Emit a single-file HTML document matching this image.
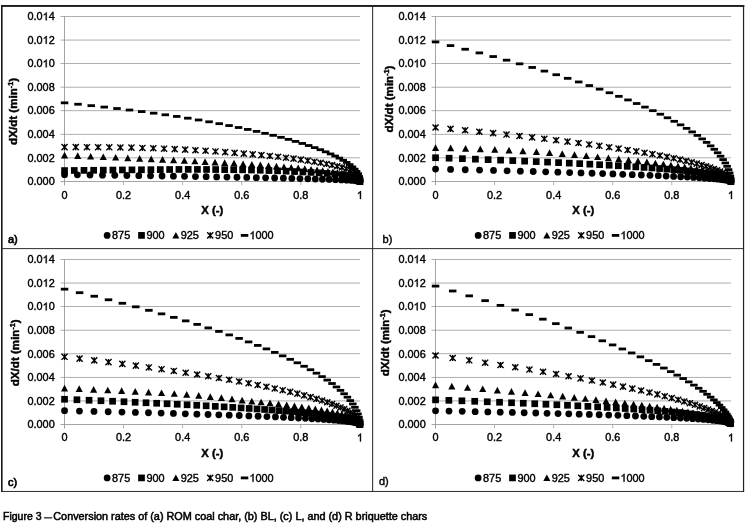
<!DOCTYPE html><html><head><meta charset="utf-8"><title>Figure 3</title><style>html,body{margin:0;padding:0;background:#fff;}body{width:750px;height:529px;position:relative;overflow:hidden;font-family:"Liberation Sans",sans-serif;}</style></head><body><svg width="750" height="529" viewBox="0 0 750 529" style="position:absolute;left:0;top:0;filter:blur(0.35px)" font-family="Liberation Sans, sans-serif" font-size="10.9" fill="#000">
<style>text{stroke:#000;stroke-width:0.4px;paint-order:stroke}text.b{font-weight:bold;stroke-width:0.45px}</style>
<rect width="750" height="529" fill="#fff"/>
<rect x="1" y="5" width="743.3" height="1.9" fill="#1a1a1a"/>
<rect x="1" y="5" width="1.6" height="486.9" fill="#1a1a1a"/>
<rect x="742.95" y="5" width="1.2" height="486.9" fill="#222"/>
<rect x="1" y="490.95" width="743.1" height="0.95" fill="#222"/>
<rect x="372.15" y="5" width="1.0" height="486.9" fill="#222"/>
<rect x="1" y="248.15" width="743" height="0.95" fill="#222"/>
<rect x="60.55" y="16.10" width="299.55" height="0.8" fill="#9a9a9a"/>
<text x="27.48" y="20.25" font-size="10.9">0.0</text><path d="M46.69 20.25L45.73 20.25L45.73 14.15Q45.39 14.48 44.82 14.81Q44.26 15.14 43.82 15.30L43.82 14.37Q44.62 14.00 45.22 13.46Q45.82 12.92 46.07 12.42L46.69 12.42Z" stroke="#000" stroke-width="0.4"/><text x="48.69" y="20.25" font-size="10.9">4</text>
<rect x="60.55" y="39.66" width="299.55" height="0.8" fill="#9a9a9a"/>
<text x="27.48" y="43.81" font-size="10.9">0.0</text><path d="M46.69 43.81L45.73 43.81L45.73 37.70Q45.39 38.03 44.82 38.36Q44.26 38.69 43.82 38.86L43.82 37.93Q44.62 37.55 45.22 37.02Q45.82 36.48 46.07 35.97L46.69 35.97Z" stroke="#000" stroke-width="0.4"/><text x="48.69" y="43.81" font-size="10.9">2</text>
<rect x="60.55" y="63.21" width="299.55" height="0.8" fill="#9a9a9a"/>
<text x="27.48" y="67.36" font-size="10.9">0.0</text><path d="M46.69 67.36L45.73 67.36L45.73 61.26Q45.39 61.59 44.82 61.92Q44.26 62.25 43.82 62.41L43.82 61.49Q44.62 61.11 45.22 60.57Q45.82 60.04 46.07 59.53L46.69 59.53Z" stroke="#000" stroke-width="0.4"/><text x="48.69" y="67.36" font-size="10.9">0</text>
<rect x="60.55" y="86.77" width="299.55" height="0.8" fill="#9a9a9a"/>
<text x="27.48" y="90.92" font-size="10.9">0.008</text>
<rect x="60.55" y="110.33" width="299.55" height="0.8" fill="#9a9a9a"/>
<text x="27.48" y="114.48" font-size="10.9">0.006</text>
<rect x="60.55" y="133.89" width="299.55" height="0.8" fill="#9a9a9a"/>
<text x="27.48" y="138.04" font-size="10.9">0.004</text>
<rect x="60.55" y="157.44" width="299.55" height="0.8" fill="#9a9a9a"/>
<text x="27.48" y="161.59" font-size="10.9">0.002</text>
<rect x="60.55" y="181.00" width="299.55" height="0.8" fill="#8e8e8e"/>
<text x="27.48" y="185.15" font-size="10.9">0.000</text>
<rect x="64.15" y="16.50" width="0.8" height="168.70" fill="#8e8e8e"/>
<rect x="64.15" y="181.40" width="0.8" height="3.8" fill="#a0a0a0"/>
<text x="61.52" y="198.90" font-size="10.9">0</text>
<rect x="123.22" y="181.40" width="0.8" height="3.8" fill="#a0a0a0"/>
<text x="116.04" y="198.90" font-size="10.9">0.2</text>
<rect x="182.29" y="181.40" width="0.8" height="3.8" fill="#a0a0a0"/>
<text x="175.11" y="198.90" font-size="10.9">0.4</text>
<rect x="241.36" y="181.40" width="0.8" height="3.8" fill="#a0a0a0"/>
<text x="234.18" y="198.90" font-size="10.9">0.6</text>
<rect x="300.43" y="181.40" width="0.8" height="3.8" fill="#a0a0a0"/>
<text x="293.25" y="198.90" font-size="10.9">0.8</text>
<rect x="359.50" y="181.40" width="0.8" height="3.8" fill="#a0a0a0"/>
<path d="M360.93 198.90L359.97 198.90L359.97 192.80Q359.63 193.13 359.07 193.46Q358.50 193.79 358.06 193.95L358.06 193.02Q358.86 192.65 359.46 192.11Q360.06 191.57 360.31 191.07L360.93 191.07Z" stroke="#000" stroke-width="0.4"/>
<text x="212.22" y="214.00" text-anchor="middle" class="b" font-size="11.3">X (-)</text>
<text transform="translate(17.00 111.40) rotate(-90)" text-anchor="middle" class="b" font-size="11.6">dX/dt (min<tspan font-size="7.2" dy="-3.9">-1</tspan><tspan dy="3.9">)</tspan></text>
<text x="8.00" y="242.60" font-size="11" style="stroke-width:0.7px">a)</text>
<g>
<circle cx="64.55" cy="174.69" r="3.4"/>
<circle cx="77.36" cy="174.85" r="3.4"/>
<circle cx="90.01" cy="175.01" r="3.4"/>
<circle cx="102.48" cy="175.17" r="3.4"/>
<circle cx="114.76" cy="175.34" r="3.4"/>
<circle cx="126.87" cy="175.51" r="3.4"/>
<circle cx="138.79" cy="175.67" r="3.4"/>
<circle cx="150.52" cy="175.84" r="3.4"/>
<circle cx="162.06" cy="176.01" r="3.4"/>
<circle cx="173.40" cy="176.19" r="3.4"/>
<circle cx="184.53" cy="176.36" r="3.4"/>
<circle cx="195.46" cy="176.53" r="3.4"/>
<circle cx="206.17" cy="176.71" r="3.4"/>
<circle cx="216.67" cy="176.89" r="3.4"/>
<circle cx="226.94" cy="177.07" r="3.4"/>
<circle cx="236.97" cy="177.25" r="3.4"/>
<circle cx="246.77" cy="177.44" r="3.4"/>
<circle cx="256.31" cy="177.63" r="3.4"/>
<circle cx="265.60" cy="177.82" r="3.4"/>
<circle cx="274.63" cy="178.01" r="3.4"/>
<circle cx="283.37" cy="178.21" r="3.4"/>
<circle cx="291.83" cy="178.40" r="3.4"/>
<circle cx="299.98" cy="178.61" r="3.4"/>
<circle cx="307.81" cy="178.81" r="3.4"/>
<circle cx="315.30" cy="179.03" r="3.4"/>
<circle cx="322.43" cy="179.24" r="3.4"/>
<circle cx="329.17" cy="179.47" r="3.4"/>
<circle cx="335.50" cy="179.70" r="3.4"/>
<circle cx="341.36" cy="179.94" r="3.4"/>
<circle cx="346.72" cy="180.19" r="3.4"/>
<circle cx="351.48" cy="180.45" r="3.4"/>
<circle cx="355.53" cy="180.74" r="3.4"/>
<circle cx="358.63" cy="181.06" r="3.4"/>
<circle cx="359.29" cy="181.18" r="3.4"/>
<circle cx="359.90" cy="181.40" r="3.4"/>
</g>
<g>
<rect x="61.20" y="167.21" width="6.7" height="6.7"/>
<rect x="70.93" y="167.12" width="6.7" height="6.7"/>
<rect x="80.63" y="167.03" width="6.7" height="6.7"/>
<rect x="90.30" y="166.93" width="6.7" height="6.7"/>
<rect x="99.93" y="166.83" width="6.7" height="6.7"/>
<rect x="109.53" y="166.72" width="6.7" height="6.7"/>
<rect x="119.09" y="166.61" width="6.7" height="6.7"/>
<rect x="128.61" y="166.51" width="6.7" height="6.7"/>
<rect x="138.09" y="166.42" width="6.7" height="6.7"/>
<rect x="147.53" y="166.33" width="6.7" height="6.7"/>
<rect x="156.93" y="166.24" width="6.7" height="6.7"/>
<rect x="166.28" y="166.16" width="6.7" height="6.7"/>
<rect x="175.59" y="166.08" width="6.7" height="6.7"/>
<rect x="184.85" y="166.05" width="6.7" height="6.7"/>
<rect x="194.06" y="166.07" width="6.7" height="6.7"/>
<rect x="203.21" y="166.11" width="6.7" height="6.7"/>
<rect x="212.32" y="166.18" width="6.7" height="6.7"/>
<rect x="221.36" y="166.26" width="6.7" height="6.7"/>
<rect x="230.35" y="166.37" width="6.7" height="6.7"/>
<rect x="239.27" y="166.51" width="6.7" height="6.7"/>
<rect x="248.13" y="166.71" width="6.7" height="6.7"/>
<rect x="256.91" y="166.94" width="6.7" height="6.7"/>
<rect x="265.62" y="167.20" width="6.7" height="6.7"/>
<rect x="274.24" y="167.50" width="6.7" height="6.7"/>
<rect x="282.78" y="167.84" width="6.7" height="6.7"/>
<rect x="291.22" y="168.21" width="6.7" height="6.7"/>
<rect x="299.55" y="168.63" width="6.7" height="6.7"/>
<rect x="307.75" y="169.07" width="6.7" height="6.7"/>
<rect x="315.83" y="169.57" width="6.7" height="6.7"/>
<rect x="323.74" y="170.12" width="6.7" height="6.7"/>
<rect x="331.47" y="170.70" width="6.7" height="6.7"/>
<rect x="338.96" y="171.35" width="6.7" height="6.7"/>
<rect x="346.15" y="172.16" width="6.7" height="6.7"/>
<rect x="352.85" y="173.41" width="6.7" height="6.7"/>
<rect x="356.55" y="178.05" width="6.7" height="6.7"/>
</g>
<g>
<path d="M64.55 151.87L68.10 158.57L61.00 158.57Z"/>
<path d="M77.72 152.37L81.27 159.07L74.17 159.07Z"/>
<path d="M90.63 152.88L94.18 159.58L87.08 159.58Z"/>
<path d="M103.28 153.40L106.83 160.10L99.73 160.10Z"/>
<path d="M115.67 153.91L119.22 160.61L112.12 160.61Z"/>
<path d="M127.79 154.43L131.34 161.13L124.24 161.13Z"/>
<path d="M139.65 154.95L143.20 161.65L136.10 161.65Z"/>
<path d="M151.24 155.48L154.79 162.18L147.69 162.18Z"/>
<path d="M162.56 156.01L166.11 162.71L159.01 162.71Z"/>
<path d="M173.60 156.55L177.15 163.25L170.05 163.25Z"/>
<path d="M184.37 157.09L187.92 163.79L180.82 163.79Z"/>
<path d="M194.87 157.63L198.42 164.33L191.32 164.33Z"/>
<path d="M205.08 158.18L208.63 164.88L201.53 164.88Z"/>
<path d="M215.01 158.74L218.56 165.44L211.46 165.44Z"/>
<path d="M224.66 159.30L228.21 166.00L221.11 166.00Z"/>
<path d="M234.02 159.86L237.57 166.56L230.47 166.56Z"/>
<path d="M243.09 160.43L246.64 167.13L239.54 167.13Z"/>
<path d="M251.87 161.01L255.42 167.71L248.32 167.71Z"/>
<path d="M260.35 161.59L263.90 168.29L256.80 168.29Z"/>
<path d="M268.53 162.18L272.08 168.88L264.98 168.88Z"/>
<path d="M276.41 162.78L279.96 169.48L272.86 169.48Z"/>
<path d="M283.98 163.39L287.53 170.09L280.43 170.09Z"/>
<path d="M291.23 164.00L294.78 170.70L287.68 170.70Z"/>
<path d="M298.18 164.62L301.73 171.32L294.63 171.32Z"/>
<path d="M304.80 165.25L308.35 171.95L301.25 171.95Z"/>
<path d="M311.09 165.90L314.64 172.60L307.54 172.60Z"/>
<path d="M317.06 166.55L320.61 173.25L313.51 173.25Z"/>
<path d="M322.68 167.22L326.23 173.92L319.13 173.92Z"/>
<path d="M327.97 167.90L331.52 174.60L324.42 174.60Z"/>
<path d="M332.90 168.59L336.45 175.29L329.35 175.29Z"/>
<path d="M337.47 169.31L341.02 176.01L333.92 176.01Z"/>
<path d="M341.67 170.04L345.22 176.74L338.12 176.74Z"/>
<path d="M345.49 170.80L349.04 177.50L341.94 177.50Z"/>
<path d="M348.91 171.58L352.46 178.28L345.36 178.28Z"/>
<path d="M351.93 172.39L355.48 179.09L348.38 179.09Z"/>
<path d="M354.52 173.25L358.07 179.95L350.97 179.95Z"/>
<path d="M356.65 174.16L360.20 180.86L353.10 180.86Z"/>
<path d="M358.30 175.14L361.85 181.84L354.75 181.84Z"/>
<path d="M359.40 176.22L362.95 182.92L355.85 182.92Z"/>
<path d="M359.77 176.97L363.32 183.67L356.22 183.67Z"/>
<path d="M359.90 177.90L363.45 184.60L356.35 184.60Z"/>
</g>
<g>
<path d="M61.50 144.07L67.60 150.17M67.60 144.07L61.50 150.17M64.55 144.07L64.55 150.17" stroke="#000" stroke-width="1.4" fill="none"/>
<path d="M72.70 144.09L78.80 150.19M78.80 144.09L72.70 150.19M75.75 144.09L75.75 150.19" stroke="#000" stroke-width="1.4" fill="none"/>
<path d="M83.89 144.12L89.99 150.22M89.99 144.12L83.89 150.22M86.94 144.12L86.94 150.22" stroke="#000" stroke-width="1.4" fill="none"/>
<path d="M95.07 144.18L101.17 150.28M101.17 144.18L95.07 150.28M98.12 144.18L98.12 150.28" stroke="#000" stroke-width="1.4" fill="none"/>
<path d="M106.22 144.27L112.32 150.37M112.32 144.27L106.22 150.37M109.27 144.27L109.27 150.37" stroke="#000" stroke-width="1.4" fill="none"/>
<path d="M117.33 144.39L123.43 150.49M123.43 144.39L117.33 150.49M120.38 144.39L120.38 150.49" stroke="#000" stroke-width="1.4" fill="none"/>
<path d="M128.40 144.60L134.50 150.70M134.50 144.60L128.40 150.70M131.45 144.60L131.45 150.70" stroke="#000" stroke-width="1.4" fill="none"/>
<path d="M139.39 144.88L145.49 150.98M145.49 144.88L139.39 150.98M142.44 144.88L142.44 150.98" stroke="#000" stroke-width="1.4" fill="none"/>
<path d="M150.27 145.22L156.37 151.32M156.37 145.22L150.27 151.32M153.32 145.22L153.32 151.32" stroke="#000" stroke-width="1.4" fill="none"/>
<path d="M161.04 145.62L167.14 151.72M167.14 145.62L161.04 151.72M164.09 145.62L164.09 151.72" stroke="#000" stroke-width="1.4" fill="none"/>
<path d="M171.66 146.08L177.76 152.18M177.76 146.08L171.66 152.18M174.71 146.08L174.71 152.18" stroke="#000" stroke-width="1.4" fill="none"/>
<path d="M182.12 146.59L188.22 152.69M188.22 146.59L182.12 152.69M185.17 146.59L185.17 152.69" stroke="#000" stroke-width="1.4" fill="none"/>
<path d="M192.41 147.14L198.51 153.24M198.51 147.14L192.41 153.24M195.46 147.14L195.46 153.24" stroke="#000" stroke-width="1.4" fill="none"/>
<path d="M202.51 147.73L208.61 153.83M208.61 147.73L202.51 153.83M205.56 147.73L205.56 153.83" stroke="#000" stroke-width="1.4" fill="none"/>
<path d="M212.42 148.38L218.52 154.48M218.52 148.38L212.42 154.48M215.47 148.38L215.47 154.48" stroke="#000" stroke-width="1.4" fill="none"/>
<path d="M222.10 149.07L228.20 155.17M228.20 149.07L222.10 155.17M225.15 149.07L225.15 155.17" stroke="#000" stroke-width="1.4" fill="none"/>
<path d="M231.54 149.82L237.64 155.92M237.64 149.82L231.54 155.92M234.59 149.82L234.59 155.92" stroke="#000" stroke-width="1.4" fill="none"/>
<path d="M240.74 150.59L246.84 156.69M246.84 150.59L240.74 156.69M243.79 150.59L243.79 156.69" stroke="#000" stroke-width="1.4" fill="none"/>
<path d="M249.69 151.33L255.79 157.43M255.79 151.33L249.69 157.43M252.74 151.33L252.74 157.43" stroke="#000" stroke-width="1.4" fill="none"/>
<path d="M258.39 152.10L264.49 158.20M264.49 152.10L258.39 158.20M261.44 152.10L261.44 158.20" stroke="#000" stroke-width="1.4" fill="none"/>
<path d="M266.83 152.92L272.93 159.02M272.93 152.92L266.83 159.02M269.88 152.92L269.88 159.02" stroke="#000" stroke-width="1.4" fill="none"/>
<path d="M275.01 153.77L281.11 159.87M281.11 153.77L275.01 159.87M278.06 153.77L278.06 159.87" stroke="#000" stroke-width="1.4" fill="none"/>
<path d="M282.89 154.66L288.99 160.76M288.99 154.66L282.89 160.76M285.94 154.66L285.94 160.76" stroke="#000" stroke-width="1.4" fill="none"/>
<path d="M290.48 155.58L296.58 161.68M296.58 155.58L290.48 161.68M293.53 155.58L293.53 161.68" stroke="#000" stroke-width="1.4" fill="none"/>
<path d="M297.77 156.54L303.87 162.64M303.87 156.54L297.77 162.64M300.82 156.54L300.82 162.64" stroke="#000" stroke-width="1.4" fill="none"/>
<path d="M304.72 157.57L310.82 163.67M310.82 157.57L304.72 163.67M307.77 157.57L307.77 163.67" stroke="#000" stroke-width="1.4" fill="none"/>
<path d="M311.34 158.63L317.44 164.73M317.44 158.63L311.34 164.73M314.39 158.63L314.39 164.73" stroke="#000" stroke-width="1.4" fill="none"/>
<path d="M317.60 159.74L323.70 165.84M323.70 159.74L317.60 165.84M320.65 159.74L320.65 165.84" stroke="#000" stroke-width="1.4" fill="none"/>
<path d="M323.50 160.87L329.60 166.97M329.60 160.87L323.50 166.97M326.55 160.87L326.55 166.97" stroke="#000" stroke-width="1.4" fill="none"/>
<path d="M329.01 162.02L335.11 168.12M335.11 162.02L329.01 168.12M332.06 162.02L332.06 168.12" stroke="#000" stroke-width="1.4" fill="none"/>
<path d="M334.16 163.15L340.26 169.25M340.26 163.15L334.16 169.25M337.21 163.15L337.21 169.25" stroke="#000" stroke-width="1.4" fill="none"/>
<path d="M338.93 164.36L345.03 170.46M345.03 164.36L338.93 170.46M341.98 164.36L341.98 170.46" stroke="#000" stroke-width="1.4" fill="none"/>
<path d="M343.29 165.65L349.39 171.75M349.39 165.65L343.29 171.75M346.34 165.65L346.34 171.75" stroke="#000" stroke-width="1.4" fill="none"/>
<path d="M347.21 167.06L353.31 173.16M353.31 167.06L347.21 173.16M350.26 167.06L350.26 173.16" stroke="#000" stroke-width="1.4" fill="none"/>
<path d="M350.64 168.63L356.74 174.73M356.74 168.63L350.64 174.73M353.69 168.63L353.69 174.73" stroke="#000" stroke-width="1.4" fill="none"/>
<path d="M353.51 170.48L359.61 176.58M359.61 170.48L353.51 176.58M356.56 170.48L356.56 176.58" stroke="#000" stroke-width="1.4" fill="none"/>
<path d="M355.70 172.83L361.80 178.93M361.80 172.83L355.70 178.93M358.75 172.83L358.75 178.93" stroke="#000" stroke-width="1.4" fill="none"/>
<path d="M356.78 176.22L362.88 182.32M362.88 176.22L356.78 182.32M359.83 176.22L359.83 182.32" stroke="#000" stroke-width="1.4" fill="none"/>
<path d="M356.85 178.35L362.95 184.45M362.95 178.35L356.85 184.45M359.90 178.35L359.90 184.45" stroke="#000" stroke-width="1.4" fill="none"/>
</g>
<g>
<rect x="60.80" y="101.44" width="7.5" height="2.8"/>
<rect x="74.28" y="102.84" width="7.5" height="2.8"/>
<rect x="87.51" y="104.25" width="7.5" height="2.8"/>
<rect x="100.50" y="105.68" width="7.5" height="2.8"/>
<rect x="113.24" y="107.13" width="7.5" height="2.8"/>
<rect x="125.73" y="108.62" width="7.5" height="2.8"/>
<rect x="137.95" y="110.18" width="7.5" height="2.8"/>
<rect x="149.90" y="111.77" width="7.5" height="2.8"/>
<rect x="161.57" y="113.39" width="7.5" height="2.8"/>
<rect x="172.96" y="115.05" width="7.5" height="2.8"/>
<rect x="184.05" y="116.78" width="7.5" height="2.8"/>
<rect x="194.84" y="118.57" width="7.5" height="2.8"/>
<rect x="205.32" y="120.40" width="7.5" height="2.8"/>
<rect x="215.47" y="122.27" width="7.5" height="2.8"/>
<rect x="225.30" y="124.17" width="7.5" height="2.8"/>
<rect x="234.80" y="126.10" width="7.5" height="2.8"/>
<rect x="243.96" y="128.03" width="7.5" height="2.8"/>
<rect x="252.78" y="129.98" width="7.5" height="2.8"/>
<rect x="261.27" y="131.94" width="7.5" height="2.8"/>
<rect x="269.42" y="133.93" width="7.5" height="2.8"/>
<rect x="277.22" y="135.94" width="7.5" height="2.8"/>
<rect x="284.67" y="137.96" width="7.5" height="2.8"/>
<rect x="291.76" y="140.00" width="7.5" height="2.8"/>
<rect x="298.51" y="142.06" width="7.5" height="2.8"/>
<rect x="304.89" y="144.13" width="7.5" height="2.8"/>
<rect x="310.92" y="146.21" width="7.5" height="2.8"/>
<rect x="316.59" y="148.31" width="7.5" height="2.8"/>
<rect x="321.89" y="150.42" width="7.5" height="2.8"/>
<rect x="326.82" y="152.53" width="7.5" height="2.8"/>
<rect x="331.39" y="154.62" width="7.5" height="2.8"/>
<rect x="335.60" y="156.73" width="7.5" height="2.8"/>
<rect x="339.44" y="158.87" width="7.5" height="2.8"/>
<rect x="342.91" y="161.03" width="7.5" height="2.8"/>
<rect x="345.99" y="163.23" width="7.5" height="2.8"/>
<rect x="348.70" y="165.47" width="7.5" height="2.8"/>
<rect x="351.00" y="167.76" width="7.5" height="2.8"/>
<rect x="352.91" y="170.12" width="7.5" height="2.8"/>
<rect x="354.39" y="172.55" width="7.5" height="2.8"/>
<rect x="355.44" y="175.09" width="7.5" height="2.8"/>
<rect x="356.00" y="177.58" width="7.5" height="2.8"/>
<rect x="356.15" y="180.00" width="7.5" height="2.8"/>
</g>
<circle cx="107.15" cy="235.40" r="3.4"/>
<text x="112.05" y="239.20" font-size="10.9">875</text>
<rect x="138.15" y="232.05" width="6.7" height="6.7"/>
<text x="146.40" y="239.20" font-size="10.9">900</text>
<path d="M175.85 231.90L179.40 238.60L172.30 238.60Z"/>
<text x="180.75" y="239.20" font-size="10.9">925</text>
<path d="M207.15 232.35L213.25 238.45M213.25 232.35L207.15 238.45M210.20 232.35L210.20 238.45" stroke="#000" stroke-width="1.4" fill="none"/>
<text x="215.10" y="239.20" font-size="10.9">950</text>
<rect x="240.80" y="234.00" width="7.5" height="2.8"/>
<path d="M253.51 239.20L252.55 239.20L252.55 233.10Q252.21 233.43 251.65 233.76Q251.08 234.09 250.64 234.25L250.64 233.32Q251.44 232.95 252.04 232.41Q252.64 231.87 252.89 231.37L253.51 231.37Z" stroke="#000" stroke-width="0.4"/><text x="255.51" y="239.20" font-size="10.9">000</text>
<rect x="431.55" y="16.10" width="299.55" height="0.8" fill="#9a9a9a"/>
<text x="398.48" y="20.25" font-size="10.9">0.0</text><path d="M417.69 20.25L416.73 20.25L416.73 14.15Q416.39 14.48 415.82 14.81Q415.26 15.14 414.82 15.30L414.82 14.37Q415.62 14.00 416.22 13.46Q416.82 12.92 417.07 12.42L417.69 12.42Z" stroke="#000" stroke-width="0.4"/><text x="419.69" y="20.25" font-size="10.9">4</text>
<rect x="431.55" y="39.66" width="299.55" height="0.8" fill="#9a9a9a"/>
<text x="398.48" y="43.81" font-size="10.9">0.0</text><path d="M417.69 43.81L416.73 43.81L416.73 37.70Q416.39 38.03 415.82 38.36Q415.26 38.69 414.82 38.86L414.82 37.93Q415.62 37.55 416.22 37.02Q416.82 36.48 417.07 35.97L417.69 35.97Z" stroke="#000" stroke-width="0.4"/><text x="419.69" y="43.81" font-size="10.9">2</text>
<rect x="431.55" y="63.21" width="299.55" height="0.8" fill="#9a9a9a"/>
<text x="398.48" y="67.36" font-size="10.9">0.0</text><path d="M417.69 67.36L416.73 67.36L416.73 61.26Q416.39 61.59 415.82 61.92Q415.26 62.25 414.82 62.41L414.82 61.49Q415.62 61.11 416.22 60.57Q416.82 60.04 417.07 59.53L417.69 59.53Z" stroke="#000" stroke-width="0.4"/><text x="419.69" y="67.36" font-size="10.9">0</text>
<rect x="431.55" y="86.77" width="299.55" height="0.8" fill="#9a9a9a"/>
<text x="398.48" y="90.92" font-size="10.9">0.008</text>
<rect x="431.55" y="110.33" width="299.55" height="0.8" fill="#9a9a9a"/>
<text x="398.48" y="114.48" font-size="10.9">0.006</text>
<rect x="431.55" y="133.89" width="299.55" height="0.8" fill="#9a9a9a"/>
<text x="398.48" y="138.04" font-size="10.9">0.004</text>
<rect x="431.55" y="157.44" width="299.55" height="0.8" fill="#9a9a9a"/>
<text x="398.48" y="161.59" font-size="10.9">0.002</text>
<rect x="431.55" y="181.00" width="299.55" height="0.8" fill="#8e8e8e"/>
<text x="398.48" y="185.15" font-size="10.9">0.000</text>
<rect x="435.15" y="16.50" width="0.8" height="168.70" fill="#8e8e8e"/>
<rect x="435.15" y="181.40" width="0.8" height="3.8" fill="#a0a0a0"/>
<text x="432.52" y="198.90" font-size="10.9">0</text>
<rect x="494.22" y="181.40" width="0.8" height="3.8" fill="#a0a0a0"/>
<text x="487.04" y="198.90" font-size="10.9">0.2</text>
<rect x="553.29" y="181.40" width="0.8" height="3.8" fill="#a0a0a0"/>
<text x="546.11" y="198.90" font-size="10.9">0.4</text>
<rect x="612.36" y="181.40" width="0.8" height="3.8" fill="#a0a0a0"/>
<text x="605.18" y="198.90" font-size="10.9">0.6</text>
<rect x="671.43" y="181.40" width="0.8" height="3.8" fill="#a0a0a0"/>
<text x="664.25" y="198.90" font-size="10.9">0.8</text>
<rect x="730.50" y="181.40" width="0.8" height="3.8" fill="#a0a0a0"/>
<path d="M731.93 198.90L730.97 198.90L730.97 192.80Q730.63 193.13 730.07 193.46Q729.50 193.79 729.06 193.95L729.06 193.02Q729.86 192.65 730.46 192.11Q731.06 191.57 731.31 191.07L731.93 191.07Z" stroke="#000" stroke-width="0.4"/>
<text x="583.23" y="214.00" text-anchor="middle" class="b" font-size="11.3">X (-)</text>
<text transform="translate(392.80 99.00) rotate(-90)" text-anchor="middle" class="b" font-size="11.6">dX/dt (min<tspan font-size="7.2" dy="-3.9">-1</tspan><tspan dy="3.9">)</tspan></text>
<text x="382.60" y="242.60" font-size="11" style="stroke-width:0.4px">b)</text>
<g>
<circle cx="435.55" cy="169.03" r="3.4"/>
<circle cx="450.57" cy="169.38" r="3.4"/>
<circle cx="465.24" cy="169.73" r="3.4"/>
<circle cx="479.55" cy="170.08" r="3.4"/>
<circle cx="493.51" cy="170.43" r="3.4"/>
<circle cx="507.11" cy="170.78" r="3.4"/>
<circle cx="520.34" cy="171.13" r="3.4"/>
<circle cx="533.21" cy="171.48" r="3.4"/>
<circle cx="545.71" cy="171.83" r="3.4"/>
<circle cx="557.85" cy="172.18" r="3.4"/>
<circle cx="569.61" cy="172.53" r="3.4"/>
<circle cx="581.00" cy="172.88" r="3.4"/>
<circle cx="592.01" cy="173.23" r="3.4"/>
<circle cx="602.64" cy="173.58" r="3.4"/>
<circle cx="612.89" cy="173.93" r="3.4"/>
<circle cx="622.75" cy="174.28" r="3.4"/>
<circle cx="632.23" cy="174.63" r="3.4"/>
<circle cx="641.31" cy="174.98" r="3.4"/>
<circle cx="650.00" cy="175.33" r="3.4"/>
<circle cx="658.28" cy="175.68" r="3.4"/>
<circle cx="666.16" cy="176.03" r="3.4"/>
<circle cx="673.63" cy="176.38" r="3.4"/>
<circle cx="680.68" cy="176.73" r="3.4"/>
<circle cx="687.32" cy="177.08" r="3.4"/>
<circle cx="693.52" cy="177.43" r="3.4"/>
<circle cx="699.30" cy="177.78" r="3.4"/>
<circle cx="704.63" cy="178.13" r="3.4"/>
<circle cx="709.52" cy="178.48" r="3.4"/>
<circle cx="713.95" cy="178.83" r="3.4"/>
<circle cx="717.90" cy="179.18" r="3.4"/>
<circle cx="721.38" cy="179.53" r="3.4"/>
<circle cx="724.36" cy="179.88" r="3.4"/>
<circle cx="726.82" cy="180.23" r="3.4"/>
<circle cx="728.74" cy="180.57" r="3.4"/>
<circle cx="730.08" cy="180.91" r="3.4"/>
<circle cx="730.74" cy="181.21" r="3.4"/>
<circle cx="730.90" cy="181.40" r="3.4"/>
</g>
<g>
<rect x="432.20" y="154.38" width="6.7" height="6.7"/>
<rect x="445.76" y="154.85" width="6.7" height="6.7"/>
<rect x="459.05" y="155.33" width="6.7" height="6.7"/>
<rect x="472.06" y="155.81" width="6.7" height="6.7"/>
<rect x="484.79" y="156.29" width="6.7" height="6.7"/>
<rect x="497.24" y="156.78" width="6.7" height="6.7"/>
<rect x="509.41" y="157.27" width="6.7" height="6.7"/>
<rect x="521.29" y="157.76" width="6.7" height="6.7"/>
<rect x="532.89" y="158.26" width="6.7" height="6.7"/>
<rect x="544.19" y="158.76" width="6.7" height="6.7"/>
<rect x="555.21" y="159.27" width="6.7" height="6.7"/>
<rect x="565.93" y="159.78" width="6.7" height="6.7"/>
<rect x="576.35" y="160.30" width="6.7" height="6.7"/>
<rect x="586.47" y="160.82" width="6.7" height="6.7"/>
<rect x="596.29" y="161.35" width="6.7" height="6.7"/>
<rect x="605.80" y="161.88" width="6.7" height="6.7"/>
<rect x="615.00" y="162.41" width="6.7" height="6.7"/>
<rect x="623.89" y="162.96" width="6.7" height="6.7"/>
<rect x="632.46" y="163.51" width="6.7" height="6.7"/>
<rect x="640.72" y="164.06" width="6.7" height="6.7"/>
<rect x="648.65" y="164.63" width="6.7" height="6.7"/>
<rect x="656.25" y="165.20" width="6.7" height="6.7"/>
<rect x="663.51" y="165.78" width="6.7" height="6.7"/>
<rect x="670.44" y="166.37" width="6.7" height="6.7"/>
<rect x="677.02" y="166.97" width="6.7" height="6.7"/>
<rect x="683.26" y="167.58" width="6.7" height="6.7"/>
<rect x="689.13" y="168.20" width="6.7" height="6.7"/>
<rect x="694.65" y="168.84" width="6.7" height="6.7"/>
<rect x="699.79" y="169.49" width="6.7" height="6.7"/>
<rect x="704.55" y="170.15" width="6.7" height="6.7"/>
<rect x="708.92" y="170.84" width="6.7" height="6.7"/>
<rect x="712.89" y="171.54" width="6.7" height="6.7"/>
<rect x="716.44" y="172.27" width="6.7" height="6.7"/>
<rect x="719.55" y="173.04" width="6.7" height="6.7"/>
<rect x="722.22" y="173.84" width="6.7" height="6.7"/>
<rect x="724.40" y="174.69" width="6.7" height="6.7"/>
<rect x="726.06" y="175.61" width="6.7" height="6.7"/>
<rect x="727.13" y="176.64" width="6.7" height="6.7"/>
<rect x="727.31" y="176.93" width="6.7" height="6.7"/>
<rect x="727.55" y="178.05" width="6.7" height="6.7"/>
</g>
<g>
<path d="M435.55 144.21L439.10 150.91L432.00 150.91Z"/>
<path d="M450.66 144.61L454.21 151.31L447.11 151.31Z"/>
<path d="M465.58 145.05L469.13 151.75L462.03 151.75Z"/>
<path d="M480.30 145.53L483.85 152.23L476.75 152.23Z"/>
<path d="M494.79 146.05L498.34 152.75L491.24 152.75Z"/>
<path d="M509.01 146.73L512.56 153.43L505.46 153.43Z"/>
<path d="M522.90 147.50L526.45 154.20L519.35 154.20Z"/>
<path d="M536.43 148.35L539.98 155.05L532.88 155.05Z"/>
<path d="M549.56 149.27L553.11 155.97L546.01 155.97Z"/>
<path d="M562.26 150.24L565.81 156.94L558.71 156.94Z"/>
<path d="M574.51 151.24L578.06 157.94L570.96 157.94Z"/>
<path d="M586.30 152.30L589.85 159.00L582.75 159.00Z"/>
<path d="M597.61 153.39L601.16 160.09L594.06 160.09Z"/>
<path d="M608.42 154.50L611.97 161.20L604.87 161.20Z"/>
<path d="M618.72 155.55L622.27 162.25L615.17 162.25Z"/>
<path d="M628.57 156.56L632.12 163.26L625.02 163.26Z"/>
<path d="M637.97 157.58L641.52 164.28L634.42 164.28Z"/>
<path d="M646.91 158.60L650.46 165.30L643.36 165.30Z"/>
<path d="M655.38 159.64L658.93 166.34L651.83 166.34Z"/>
<path d="M663.38 160.67L666.93 167.37L659.83 167.37Z"/>
<path d="M670.92 161.70L674.47 168.40L667.37 168.40Z"/>
<path d="M678.01 162.66L681.56 169.36L674.46 169.36Z"/>
<path d="M684.67 163.60L688.22 170.30L681.12 170.30Z"/>
<path d="M690.90 164.56L694.45 171.26L687.35 171.26Z"/>
<path d="M696.70 165.52L700.25 172.22L693.15 172.22Z"/>
<path d="M702.06 166.48L705.61 173.18L698.51 173.18Z"/>
<path d="M706.99 167.46L710.54 174.16L703.44 174.16Z"/>
<path d="M711.48 168.44L715.03 175.14L707.93 175.14Z"/>
<path d="M715.51 169.43L719.06 176.13L711.96 176.13Z"/>
<path d="M719.10 170.44L722.65 177.14L715.55 177.14Z"/>
<path d="M722.23 171.45L725.78 178.15L718.68 178.15Z"/>
<path d="M724.90 172.48L728.45 179.18L721.35 179.18Z"/>
<path d="M727.09 173.53L730.64 180.23L723.54 180.23Z"/>
<path d="M728.81 174.60L732.36 181.30L725.26 181.30Z"/>
<path d="M730.02 175.70L733.57 182.40L726.47 182.40Z"/>
<path d="M730.69 176.78L734.24 183.48L727.14 183.48Z"/>
<path d="M730.90 177.90L734.45 184.60L727.35 184.60Z"/>
</g>
<g>
<path d="M432.50 124.40L438.60 130.50M438.60 124.40L432.50 130.50M435.55 124.40L435.55 130.50" stroke="#000" stroke-width="1.4" fill="none"/>
<path d="M447.50 125.83L453.60 131.93M453.60 125.83L447.50 131.93M450.55 125.83L450.55 131.93" stroke="#000" stroke-width="1.4" fill="none"/>
<path d="M462.09 127.26L468.19 133.36M468.19 127.26L462.09 133.36M465.14 127.26L465.14 133.36" stroke="#000" stroke-width="1.4" fill="none"/>
<path d="M476.29 128.68L482.39 134.78M482.39 128.68L476.29 134.78M479.34 128.68L479.34 134.78" stroke="#000" stroke-width="1.4" fill="none"/>
<path d="M490.08 130.10L496.18 136.20M496.18 130.10L490.08 136.20M493.13 130.10L493.13 136.20" stroke="#000" stroke-width="1.4" fill="none"/>
<path d="M503.47 131.52L509.57 137.62M509.57 131.52L503.47 137.62M506.52 131.52L506.52 137.62" stroke="#000" stroke-width="1.4" fill="none"/>
<path d="M516.46 132.94L522.56 139.04M522.56 132.94L516.46 139.04M519.51 132.94L519.51 139.04" stroke="#000" stroke-width="1.4" fill="none"/>
<path d="M529.06 134.35L535.16 140.45M535.16 134.35L529.06 140.45M532.11 134.35L532.11 140.45" stroke="#000" stroke-width="1.4" fill="none"/>
<path d="M541.25 135.77L547.35 141.87M547.35 135.77L541.25 141.87M544.30 135.77L544.30 141.87" stroke="#000" stroke-width="1.4" fill="none"/>
<path d="M553.05 137.17L559.15 143.27M559.15 137.17L553.05 143.27M556.10 137.17L556.10 143.27" stroke="#000" stroke-width="1.4" fill="none"/>
<path d="M564.45 138.58L570.55 144.68M570.55 138.58L564.45 144.68M567.50 138.58L567.50 144.68" stroke="#000" stroke-width="1.4" fill="none"/>
<path d="M575.46 139.98L581.56 146.08M581.56 139.98L575.46 146.08M578.51 139.98L578.51 146.08" stroke="#000" stroke-width="1.4" fill="none"/>
<path d="M586.07 141.38L592.17 147.48M592.17 141.38L586.07 147.48M589.12 141.38L589.12 147.48" stroke="#000" stroke-width="1.4" fill="none"/>
<path d="M596.29 142.78L602.39 148.88M602.39 142.78L596.29 148.88M599.34 142.78L599.34 148.88" stroke="#000" stroke-width="1.4" fill="none"/>
<path d="M606.11 144.17L612.21 150.27M612.21 144.17L606.11 150.27M609.16 144.17L609.16 150.27" stroke="#000" stroke-width="1.4" fill="none"/>
<path d="M615.54 145.56L621.64 151.66M621.64 145.56L615.54 151.66M618.59 145.56L618.59 151.66" stroke="#000" stroke-width="1.4" fill="none"/>
<path d="M624.58 146.95L630.68 153.05M630.68 146.95L624.58 153.05M627.63 146.95L627.63 153.05" stroke="#000" stroke-width="1.4" fill="none"/>
<path d="M633.23 148.33L639.33 154.43M639.33 148.33L633.23 154.43M636.28 148.33L636.28 154.43" stroke="#000" stroke-width="1.4" fill="none"/>
<path d="M641.49 149.71L647.59 155.81M647.59 149.71L641.49 155.81M644.54 149.71L644.54 155.81" stroke="#000" stroke-width="1.4" fill="none"/>
<path d="M649.37 151.09L655.47 157.19M655.47 151.09L649.37 157.19M652.42 151.09L652.42 157.19" stroke="#000" stroke-width="1.4" fill="none"/>
<path d="M656.85 152.46L662.95 158.56M662.95 152.46L656.85 158.56M659.90 152.46L659.90 158.56" stroke="#000" stroke-width="1.4" fill="none"/>
<path d="M663.95 153.83L670.05 159.93M670.05 153.83L663.95 159.93M667.00 153.83L667.00 159.93" stroke="#000" stroke-width="1.4" fill="none"/>
<path d="M670.67 155.19L676.77 161.29M676.77 155.19L670.67 161.29M673.72 155.19L673.72 161.29" stroke="#000" stroke-width="1.4" fill="none"/>
<path d="M677.00 156.55L683.10 162.65M683.10 156.55L677.00 162.65M680.05 156.55L680.05 162.65" stroke="#000" stroke-width="1.4" fill="none"/>
<path d="M682.95 157.90L689.05 164.00M689.05 157.90L682.95 164.00M686.00 157.90L686.00 164.00" stroke="#000" stroke-width="1.4" fill="none"/>
<path d="M688.51 159.25L694.61 165.35M694.61 159.25L688.51 165.35M691.56 159.25L691.56 165.35" stroke="#000" stroke-width="1.4" fill="none"/>
<path d="M693.70 160.59L699.80 166.69M699.80 160.59L693.70 166.69M696.75 160.59L696.75 166.69" stroke="#000" stroke-width="1.4" fill="none"/>
<path d="M698.51 161.93L704.61 168.03M704.61 161.93L698.51 168.03M701.56 161.93L701.56 168.03" stroke="#000" stroke-width="1.4" fill="none"/>
<path d="M702.95 163.26L709.05 169.36M709.05 163.26L702.95 169.36M706.00 163.26L706.00 169.36" stroke="#000" stroke-width="1.4" fill="none"/>
<path d="M707.01 164.58L713.11 170.68M713.11 164.58L707.01 170.68M710.06 164.58L710.06 170.68" stroke="#000" stroke-width="1.4" fill="none"/>
<path d="M710.70 165.89L716.80 171.99M716.80 165.89L710.70 171.99M713.75 165.89L713.75 171.99" stroke="#000" stroke-width="1.4" fill="none"/>
<path d="M714.02 167.20L720.12 173.30M720.12 167.20L714.02 173.30M717.07 167.20L717.07 173.30" stroke="#000" stroke-width="1.4" fill="none"/>
<path d="M716.97 168.50L723.07 174.60M723.07 168.50L716.97 174.60M720.02 168.50L720.02 174.60" stroke="#000" stroke-width="1.4" fill="none"/>
<path d="M719.56 169.78L725.66 175.88M725.66 169.78L719.56 175.88M722.61 169.78L722.61 175.88" stroke="#000" stroke-width="1.4" fill="none"/>
<path d="M721.79 171.06L727.89 177.16M727.89 171.06L721.79 177.16M724.84 171.06L724.84 177.16" stroke="#000" stroke-width="1.4" fill="none"/>
<path d="M723.65 172.32L729.75 178.42M729.75 172.32L723.65 178.42M726.70 172.32L726.70 178.42" stroke="#000" stroke-width="1.4" fill="none"/>
<path d="M725.17 173.56L731.27 179.66M731.27 173.56L725.17 179.66M728.22 173.56L728.22 179.66" stroke="#000" stroke-width="1.4" fill="none"/>
<path d="M726.33 174.77L732.43 180.87M732.43 174.77L726.33 180.87M729.38 174.77L729.38 180.87" stroke="#000" stroke-width="1.4" fill="none"/>
<path d="M727.15 175.95L733.25 182.05M733.25 175.95L727.15 182.05M730.20 175.95L730.20 182.05" stroke="#000" stroke-width="1.4" fill="none"/>
<path d="M727.63 177.03L733.73 183.13M733.73 177.03L727.63 183.13M730.68 177.03L730.68 183.13" stroke="#000" stroke-width="1.4" fill="none"/>
<path d="M727.77 177.57L733.87 183.67M733.87 177.57L727.77 183.67M730.82 177.57L730.82 183.67" stroke="#000" stroke-width="1.4" fill="none"/>
<path d="M727.85 178.35L733.95 184.45M733.95 178.35L727.85 184.45M730.90 178.35L730.90 184.45" stroke="#000" stroke-width="1.4" fill="none"/>
</g>
<g>
<rect x="431.80" y="40.54" width="7.5" height="2.8"/>
<rect x="446.80" y="44.20" width="7.5" height="2.8"/>
<rect x="461.40" y="47.85" width="7.5" height="2.8"/>
<rect x="475.60" y="51.50" width="7.5" height="2.8"/>
<rect x="489.41" y="55.15" width="7.5" height="2.8"/>
<rect x="502.82" y="58.79" width="7.5" height="2.8"/>
<rect x="515.83" y="62.43" width="7.5" height="2.8"/>
<rect x="528.44" y="66.06" width="7.5" height="2.8"/>
<rect x="540.66" y="69.69" width="7.5" height="2.8"/>
<rect x="552.48" y="73.32" width="7.5" height="2.8"/>
<rect x="563.91" y="76.94" width="7.5" height="2.8"/>
<rect x="574.95" y="80.55" width="7.5" height="2.8"/>
<rect x="585.59" y="84.16" width="7.5" height="2.8"/>
<rect x="595.84" y="87.76" width="7.5" height="2.8"/>
<rect x="605.69" y="91.36" width="7.5" height="2.8"/>
<rect x="615.15" y="94.95" width="7.5" height="2.8"/>
<rect x="624.23" y="98.54" width="7.5" height="2.8"/>
<rect x="632.91" y="102.12" width="7.5" height="2.8"/>
<rect x="641.20" y="105.69" width="7.5" height="2.8"/>
<rect x="649.10" y="109.26" width="7.5" height="2.8"/>
<rect x="656.61" y="112.82" width="7.5" height="2.8"/>
<rect x="663.74" y="116.37" width="7.5" height="2.8"/>
<rect x="670.48" y="119.91" width="7.5" height="2.8"/>
<rect x="676.83" y="123.45" width="7.5" height="2.8"/>
<rect x="682.80" y="126.98" width="7.5" height="2.8"/>
<rect x="688.39" y="130.49" width="7.5" height="2.8"/>
<rect x="693.59" y="134.00" width="7.5" height="2.8"/>
<rect x="698.41" y="137.50" width="7.5" height="2.8"/>
<rect x="702.84" y="140.98" width="7.5" height="2.8"/>
<rect x="706.90" y="144.45" width="7.5" height="2.8"/>
<rect x="710.58" y="147.91" width="7.5" height="2.8"/>
<rect x="713.89" y="151.35" width="7.5" height="2.8"/>
<rect x="716.82" y="154.78" width="7.5" height="2.8"/>
<rect x="719.37" y="158.18" width="7.5" height="2.8"/>
<rect x="721.56" y="161.56" width="7.5" height="2.8"/>
<rect x="723.38" y="164.91" width="7.5" height="2.8"/>
<rect x="724.83" y="168.22" width="7.5" height="2.8"/>
<rect x="725.92" y="171.47" width="7.5" height="2.8"/>
<rect x="726.65" y="174.60" width="7.5" height="2.8"/>
<rect x="727.02" y="177.32" width="7.5" height="2.8"/>
<rect x="727.15" y="180.00" width="7.5" height="2.8"/>
</g>
<circle cx="478.15" cy="235.40" r="3.4"/>
<text x="483.05" y="239.20" font-size="10.9">875</text>
<rect x="509.15" y="232.05" width="6.7" height="6.7"/>
<text x="517.40" y="239.20" font-size="10.9">900</text>
<path d="M546.85 231.90L550.40 238.60L543.30 238.60Z"/>
<text x="551.75" y="239.20" font-size="10.9">925</text>
<path d="M578.15 232.35L584.25 238.45M584.25 232.35L578.15 238.45M581.20 232.35L581.20 238.45" stroke="#000" stroke-width="1.4" fill="none"/>
<text x="586.10" y="239.20" font-size="10.9">950</text>
<rect x="611.80" y="234.00" width="7.5" height="2.8"/>
<path d="M624.51 239.20L623.55 239.20L623.55 233.10Q623.21 233.43 622.65 233.76Q622.08 234.09 621.64 234.25L621.64 233.32Q622.44 232.95 623.04 232.41Q623.64 231.87 623.89 231.37L624.51 231.37Z" stroke="#000" stroke-width="0.4"/><text x="626.51" y="239.20" font-size="10.9">000</text>
<rect x="60.55" y="259.05" width="299.55" height="0.8" fill="#9a9a9a"/>
<text x="27.48" y="263.20" font-size="10.9">0.0</text><path d="M46.69 263.20L45.73 263.20L45.73 257.10Q45.39 257.43 44.82 257.76Q44.26 258.09 43.82 258.25L43.82 257.32Q44.62 256.95 45.22 256.41Q45.82 255.87 46.07 255.37L46.69 255.37Z" stroke="#000" stroke-width="0.4"/><text x="48.69" y="263.20" font-size="10.9">4</text>
<rect x="60.55" y="282.63" width="299.55" height="0.8" fill="#9a9a9a"/>
<text x="27.48" y="286.78" font-size="10.9">0.0</text><path d="M46.69 286.78L45.73 286.78L45.73 280.67Q45.39 281.00 44.82 281.33Q44.26 281.66 43.82 281.83L43.82 280.90Q44.62 280.52 45.22 279.99Q45.82 279.45 46.07 278.94L46.69 278.94Z" stroke="#000" stroke-width="0.4"/><text x="48.69" y="286.78" font-size="10.9">2</text>
<rect x="60.55" y="306.21" width="299.55" height="0.8" fill="#9a9a9a"/>
<text x="27.48" y="310.36" font-size="10.9">0.0</text><path d="M46.69 310.36L45.73 310.36L45.73 304.25Q45.39 304.58 44.82 304.91Q44.26 305.24 43.82 305.41L43.82 304.48Q44.62 304.10 45.22 303.57Q45.82 303.03 46.07 302.52L46.69 302.52Z" stroke="#000" stroke-width="0.4"/><text x="48.69" y="310.36" font-size="10.9">0</text>
<rect x="60.55" y="329.79" width="299.55" height="0.8" fill="#9a9a9a"/>
<text x="27.48" y="333.94" font-size="10.9">0.008</text>
<rect x="60.55" y="353.36" width="299.55" height="0.8" fill="#9a9a9a"/>
<text x="27.48" y="357.51" font-size="10.9">0.006</text>
<rect x="60.55" y="376.94" width="299.55" height="0.8" fill="#9a9a9a"/>
<text x="27.48" y="381.09" font-size="10.9">0.004</text>
<rect x="60.55" y="400.52" width="299.55" height="0.8" fill="#9a9a9a"/>
<text x="27.48" y="404.67" font-size="10.9">0.002</text>
<rect x="60.55" y="424.10" width="299.55" height="0.8" fill="#8e8e8e"/>
<text x="27.48" y="428.25" font-size="10.9">0.000</text>
<rect x="64.15" y="259.45" width="0.8" height="168.85" fill="#8e8e8e"/>
<rect x="64.15" y="424.50" width="0.8" height="3.8" fill="#a0a0a0"/>
<text x="61.52" y="441.40" font-size="10.9">0</text>
<rect x="123.22" y="424.50" width="0.8" height="3.8" fill="#a0a0a0"/>
<text x="116.04" y="441.40" font-size="10.9">0.2</text>
<rect x="182.29" y="424.50" width="0.8" height="3.8" fill="#a0a0a0"/>
<text x="175.11" y="441.40" font-size="10.9">0.4</text>
<rect x="241.36" y="424.50" width="0.8" height="3.8" fill="#a0a0a0"/>
<text x="234.18" y="441.40" font-size="10.9">0.6</text>
<rect x="300.43" y="424.50" width="0.8" height="3.8" fill="#a0a0a0"/>
<text x="293.25" y="441.40" font-size="10.9">0.8</text>
<rect x="359.50" y="424.50" width="0.8" height="3.8" fill="#a0a0a0"/>
<path d="M360.93 441.40L359.97 441.40L359.97 435.30Q359.63 435.63 359.07 435.96Q358.50 436.29 358.06 436.45L358.06 435.52Q358.86 435.15 359.46 434.61Q360.06 434.07 360.31 433.57L360.93 433.57Z" stroke="#000" stroke-width="0.4"/>
<text x="212.22" y="456.50" text-anchor="middle" class="b" font-size="11.3">X (-)</text>
<text transform="translate(19.00 352.75) rotate(-90)" text-anchor="middle" class="b" font-size="11.6">dX/dt (min<tspan font-size="7.2" dy="-3.9">-1</tspan><tspan dy="3.9">)</tspan></text>
<text x="8.00" y="485.50" font-size="11" style="stroke-width:0.7px">c)</text>
<g>
<circle cx="64.55" cy="410.71" r="3.4"/>
<circle cx="79.46" cy="411.05" r="3.4"/>
<circle cx="94.01" cy="411.38" r="3.4"/>
<circle cx="108.18" cy="411.73" r="3.4"/>
<circle cx="121.97" cy="412.07" r="3.4"/>
<circle cx="135.40" cy="412.41" r="3.4"/>
<circle cx="148.44" cy="412.75" r="3.4"/>
<circle cx="161.12" cy="413.09" r="3.4"/>
<circle cx="173.41" cy="413.44" r="3.4"/>
<circle cx="185.33" cy="413.78" r="3.4"/>
<circle cx="196.87" cy="414.13" r="3.4"/>
<circle cx="208.04" cy="414.48" r="3.4"/>
<circle cx="218.82" cy="414.82" r="3.4"/>
<circle cx="229.21" cy="415.17" r="3.4"/>
<circle cx="239.23" cy="415.52" r="3.4"/>
<circle cx="248.86" cy="415.88" r="3.4"/>
<circle cx="258.11" cy="416.23" r="3.4"/>
<circle cx="266.97" cy="416.58" r="3.4"/>
<circle cx="275.44" cy="416.94" r="3.4"/>
<circle cx="283.52" cy="417.29" r="3.4"/>
<circle cx="291.21" cy="417.65" r="3.4"/>
<circle cx="298.51" cy="418.01" r="3.4"/>
<circle cx="305.42" cy="418.37" r="3.4"/>
<circle cx="311.92" cy="418.73" r="3.4"/>
<circle cx="318.03" cy="419.10" r="3.4"/>
<circle cx="323.74" cy="419.47" r="3.4"/>
<circle cx="329.04" cy="419.84" r="3.4"/>
<circle cx="333.94" cy="420.21" r="3.4"/>
<circle cx="338.43" cy="420.58" r="3.4"/>
<circle cx="342.51" cy="420.96" r="3.4"/>
<circle cx="346.18" cy="421.34" r="3.4"/>
<circle cx="349.42" cy="421.72" r="3.4"/>
<circle cx="352.24" cy="422.11" r="3.4"/>
<circle cx="354.63" cy="422.50" r="3.4"/>
<circle cx="356.59" cy="422.90" r="3.4"/>
<circle cx="358.10" cy="423.31" r="3.4"/>
<circle cx="359.15" cy="423.72" r="3.4"/>
<circle cx="359.72" cy="424.11" r="3.4"/>
<circle cx="359.90" cy="424.50" r="3.4"/>
</g>
<g>
<rect x="61.20" y="395.92" width="6.7" height="6.7"/>
<rect x="73.58" y="396.41" width="6.7" height="6.7"/>
<rect x="85.71" y="396.91" width="6.7" height="6.7"/>
<rect x="97.60" y="397.40" width="6.7" height="6.7"/>
<rect x="109.24" y="397.90" width="6.7" height="6.7"/>
<rect x="120.64" y="398.40" width="6.7" height="6.7"/>
<rect x="131.79" y="398.90" width="6.7" height="6.7"/>
<rect x="142.68" y="399.40" width="6.7" height="6.7"/>
<rect x="153.33" y="399.91" width="6.7" height="6.7"/>
<rect x="163.73" y="400.41" width="6.7" height="6.7"/>
<rect x="173.88" y="400.92" width="6.7" height="6.7"/>
<rect x="183.77" y="401.44" width="6.7" height="6.7"/>
<rect x="193.41" y="401.95" width="6.7" height="6.7"/>
<rect x="202.80" y="402.47" width="6.7" height="6.7"/>
<rect x="211.93" y="402.98" width="6.7" height="6.7"/>
<rect x="220.80" y="403.51" width="6.7" height="6.7"/>
<rect x="229.41" y="404.03" width="6.7" height="6.7"/>
<rect x="237.76" y="404.56" width="6.7" height="6.7"/>
<rect x="245.85" y="405.09" width="6.7" height="6.7"/>
<rect x="253.67" y="405.62" width="6.7" height="6.7"/>
<rect x="261.24" y="406.15" width="6.7" height="6.7"/>
<rect x="268.53" y="406.69" width="6.7" height="6.7"/>
<rect x="275.56" y="407.24" width="6.7" height="6.7"/>
<rect x="282.31" y="407.78" width="6.7" height="6.7"/>
<rect x="288.80" y="408.33" width="6.7" height="6.7"/>
<rect x="295.01" y="408.89" width="6.7" height="6.7"/>
<rect x="300.95" y="409.45" width="6.7" height="6.7"/>
<rect x="306.60" y="410.01" width="6.7" height="6.7"/>
<rect x="311.98" y="410.58" width="6.7" height="6.7"/>
<rect x="317.07" y="411.15" width="6.7" height="6.7"/>
<rect x="321.88" y="411.73" width="6.7" height="6.7"/>
<rect x="326.40" y="412.32" width="6.7" height="6.7"/>
<rect x="330.63" y="412.91" width="6.7" height="6.7"/>
<rect x="334.56" y="413.51" width="6.7" height="6.7"/>
<rect x="338.19" y="414.12" width="6.7" height="6.7"/>
<rect x="341.52" y="414.74" width="6.7" height="6.7"/>
<rect x="344.53" y="415.37" width="6.7" height="6.7"/>
<rect x="347.24" y="416.01" width="6.7" height="6.7"/>
<rect x="349.62" y="416.66" width="6.7" height="6.7"/>
<rect x="351.67" y="417.33" width="6.7" height="6.7"/>
<rect x="353.39" y="418.02" width="6.7" height="6.7"/>
<rect x="354.75" y="418.73" width="6.7" height="6.7"/>
<rect x="355.74" y="419.48" width="6.7" height="6.7"/>
<rect x="356.34" y="420.25" width="6.7" height="6.7"/>
<rect x="356.55" y="421.15" width="6.7" height="6.7"/>
</g>
<g>
<path d="M64.55 384.69L68.10 391.39L61.00 391.39Z"/>
<path d="M79.22 385.32L82.77 392.02L75.67 392.02Z"/>
<path d="M93.63 385.96L97.18 392.66L90.08 392.66Z"/>
<path d="M107.78 386.63L111.33 393.33L104.23 393.33Z"/>
<path d="M121.65 387.32L125.20 394.02L118.10 394.02Z"/>
<path d="M135.24 388.00L138.79 394.70L131.69 394.70Z"/>
<path d="M148.54 388.70L152.09 395.40L144.99 395.40Z"/>
<path d="M161.56 389.41L165.11 396.11L158.01 396.11Z"/>
<path d="M174.29 390.14L177.84 396.84L170.74 396.84Z"/>
<path d="M186.72 390.98L190.27 397.68L183.17 397.68Z"/>
<path d="M198.74 392.06L202.29 398.76L195.19 398.76Z"/>
<path d="M210.30 393.19L213.85 399.89L206.75 399.89Z"/>
<path d="M221.40 394.36L224.95 401.06L217.85 401.06Z"/>
<path d="M232.01 395.56L235.56 402.26L228.46 402.26Z"/>
<path d="M242.13 396.77L245.68 403.47L238.58 403.47Z"/>
<path d="M251.81 397.70L255.36 404.40L248.26 404.40Z"/>
<path d="M261.12 398.63L264.67 405.33L257.57 405.33Z"/>
<path d="M270.04 399.57L273.59 406.27L266.49 406.27Z"/>
<path d="M278.58 400.53L282.13 407.23L275.03 407.23Z"/>
<path d="M286.72 401.49L290.27 408.19L283.17 408.19Z"/>
<path d="M294.47 402.47L298.02 409.17L290.92 409.17Z"/>
<path d="M301.82 403.45L305.37 410.15L298.27 410.15Z"/>
<path d="M308.78 404.43L312.33 411.13L305.23 411.13Z"/>
<path d="M315.32 405.43L318.87 412.13L311.77 412.13Z"/>
<path d="M321.46 406.44L325.01 413.14L317.91 413.14Z"/>
<path d="M327.19 407.46L330.74 414.16L323.64 414.16Z"/>
<path d="M332.49 408.50L336.04 415.20L328.94 415.20Z"/>
<path d="M337.36 409.56L340.91 416.26L333.81 416.26Z"/>
<path d="M341.80 410.64L345.35 417.34L338.25 417.34Z"/>
<path d="M345.80 411.74L349.35 418.44L342.25 418.44Z"/>
<path d="M349.33 412.87L352.88 419.57L345.78 419.57Z"/>
<path d="M352.40 414.04L355.95 420.74L348.85 420.74Z"/>
<path d="M354.98 415.24L358.53 421.94L351.43 421.94Z"/>
<path d="M357.06 416.50L360.61 423.20L353.51 423.20Z"/>
<path d="M358.59 417.83L362.14 424.53L355.04 424.53Z"/>
<path d="M359.54 419.24L363.09 425.94L355.99 425.94Z"/>
<path d="M359.90 421.00L363.45 427.70L356.35 427.70Z"/>
</g>
<g>
<path d="M61.50 353.78L67.60 359.88M67.60 353.78L61.50 359.88M64.55 353.78L64.55 359.88" stroke="#000" stroke-width="1.4" fill="none"/>
<path d="M76.55 355.55L82.65 361.65M82.65 355.55L76.55 361.65M79.60 355.55L79.60 361.65" stroke="#000" stroke-width="1.4" fill="none"/>
<path d="M91.20 357.31L97.30 363.41M97.30 357.31L91.20 363.41M94.25 357.31L94.25 363.41" stroke="#000" stroke-width="1.4" fill="none"/>
<path d="M105.45 359.08L111.55 365.18M111.55 359.08L105.45 365.18M108.50 359.08L108.50 365.18" stroke="#000" stroke-width="1.4" fill="none"/>
<path d="M119.31 360.84L125.41 366.94M125.41 360.84L119.31 366.94M122.36 360.84L122.36 366.94" stroke="#000" stroke-width="1.4" fill="none"/>
<path d="M132.77 362.60L138.87 368.70M138.87 362.60L132.77 368.70M135.82 362.60L135.82 368.70" stroke="#000" stroke-width="1.4" fill="none"/>
<path d="M145.83 364.37L151.93 370.47M151.93 364.37L145.83 370.47M148.88 364.37L148.88 370.47" stroke="#000" stroke-width="1.4" fill="none"/>
<path d="M158.49 366.13L164.59 372.23M164.59 366.13L158.49 372.23M161.54 366.13L161.54 372.23" stroke="#000" stroke-width="1.4" fill="none"/>
<path d="M170.76 367.88L176.86 373.98M176.86 367.88L170.76 373.98M173.81 367.88L173.81 373.98" stroke="#000" stroke-width="1.4" fill="none"/>
<path d="M182.63 369.64L188.73 375.74M188.73 369.64L182.63 375.74M185.68 369.64L185.68 375.74" stroke="#000" stroke-width="1.4" fill="none"/>
<path d="M194.11 371.40L200.21 377.50M200.21 371.40L194.11 377.50M197.16 371.40L197.16 377.50" stroke="#000" stroke-width="1.4" fill="none"/>
<path d="M205.19 373.15L211.29 379.25M211.29 373.15L205.19 379.25M208.24 373.15L208.24 379.25" stroke="#000" stroke-width="1.4" fill="none"/>
<path d="M215.87 374.90L221.97 381.00M221.97 374.90L215.87 381.00M218.92 374.90L218.92 381.00" stroke="#000" stroke-width="1.4" fill="none"/>
<path d="M226.16 376.66L232.26 382.76M232.26 376.66L226.16 382.76M229.21 376.66L229.21 382.76" stroke="#000" stroke-width="1.4" fill="none"/>
<path d="M236.06 378.41L242.16 384.51M242.16 378.41L236.06 384.51M239.11 378.41L239.11 384.51" stroke="#000" stroke-width="1.4" fill="none"/>
<path d="M245.56 380.15L251.66 386.25M251.66 380.15L245.56 386.25M248.61 380.15L248.61 386.25" stroke="#000" stroke-width="1.4" fill="none"/>
<path d="M254.67 381.90L260.77 388.00M260.77 381.90L254.67 388.00M257.72 381.90L257.72 388.00" stroke="#000" stroke-width="1.4" fill="none"/>
<path d="M263.38 383.64L269.48 389.74M269.48 383.64L263.38 389.74M266.43 383.64L266.43 389.74" stroke="#000" stroke-width="1.4" fill="none"/>
<path d="M271.70 385.39L277.80 391.49M277.80 385.39L271.70 391.49M274.75 385.39L274.75 391.49" stroke="#000" stroke-width="1.4" fill="none"/>
<path d="M279.63 387.13L285.73 393.23M285.73 387.13L279.63 393.23M282.68 387.13L282.68 393.23" stroke="#000" stroke-width="1.4" fill="none"/>
<path d="M287.17 388.86L293.27 394.96M293.27 388.86L287.17 394.96M290.22 388.86L290.22 394.96" stroke="#000" stroke-width="1.4" fill="none"/>
<path d="M294.31 390.60L300.41 396.70M300.41 390.60L294.31 396.70M297.36 390.60L297.36 396.70" stroke="#000" stroke-width="1.4" fill="none"/>
<path d="M301.07 392.33L307.17 398.43M307.17 392.33L301.07 398.43M304.12 392.33L304.12 398.43" stroke="#000" stroke-width="1.4" fill="none"/>
<path d="M307.43 394.06L313.53 400.16M313.53 394.06L307.43 400.16M310.48 394.06L310.48 400.16" stroke="#000" stroke-width="1.4" fill="none"/>
<path d="M313.40 395.79L319.50 401.89M319.50 395.79L313.40 401.89M316.45 395.79L316.45 401.89" stroke="#000" stroke-width="1.4" fill="none"/>
<path d="M318.99 397.52L325.09 403.62M325.09 397.52L318.99 403.62M322.04 397.52L322.04 403.62" stroke="#000" stroke-width="1.4" fill="none"/>
<path d="M324.18 399.24L330.28 405.34M330.28 399.24L324.18 405.34M327.23 399.24L327.23 405.34" stroke="#000" stroke-width="1.4" fill="none"/>
<path d="M328.99 400.96L335.09 407.06M335.09 400.96L328.99 407.06M332.04 400.96L332.04 407.06" stroke="#000" stroke-width="1.4" fill="none"/>
<path d="M333.41 402.67L339.51 408.77M339.51 402.67L333.41 408.77M336.46 402.67L336.46 408.77" stroke="#000" stroke-width="1.4" fill="none"/>
<path d="M337.44 404.39L343.54 410.49M343.54 404.39L337.44 410.49M340.49 404.39L340.49 410.49" stroke="#000" stroke-width="1.4" fill="none"/>
<path d="M341.09 406.09L347.19 412.19M347.19 406.09L341.09 412.19M344.14 406.09L344.14 412.19" stroke="#000" stroke-width="1.4" fill="none"/>
<path d="M344.36 407.79L350.46 413.89M350.46 407.79L344.36 413.89M347.41 407.79L347.41 413.89" stroke="#000" stroke-width="1.4" fill="none"/>
<path d="M347.24 409.49L353.34 415.59M353.34 409.49L347.24 415.59M350.29 409.49L350.29 415.59" stroke="#000" stroke-width="1.4" fill="none"/>
<path d="M349.73 411.18L355.83 417.28M355.83 411.18L349.73 417.28M352.78 411.18L352.78 417.28" stroke="#000" stroke-width="1.4" fill="none"/>
<path d="M351.85 412.86L357.95 418.96M357.95 412.86L351.85 418.96M354.90 412.86L354.90 418.96" stroke="#000" stroke-width="1.4" fill="none"/>
<path d="M353.59 414.53L359.69 420.63M359.69 414.53L353.59 420.63M356.64 414.53L356.64 420.63" stroke="#000" stroke-width="1.4" fill="none"/>
<path d="M354.94 416.18L361.04 422.28M361.04 416.18L354.94 422.28M357.99 416.18L357.99 422.28" stroke="#000" stroke-width="1.4" fill="none"/>
<path d="M355.93 417.80L362.03 423.90M362.03 417.80L355.93 423.90M358.98 417.80L358.98 423.90" stroke="#000" stroke-width="1.4" fill="none"/>
<path d="M356.54 419.34L362.64 425.44M362.64 419.34L356.54 425.44M359.59 419.34L359.59 425.44" stroke="#000" stroke-width="1.4" fill="none"/>
<path d="M356.77 420.38L362.87 426.48M362.87 420.38L356.77 426.48M359.82 420.38L359.82 426.48" stroke="#000" stroke-width="1.4" fill="none"/>
<path d="M356.85 421.45L362.95 427.55M362.95 421.45L356.85 427.55M359.90 421.45L359.90 427.55" stroke="#000" stroke-width="1.4" fill="none"/>
</g>
<g>
<rect x="60.80" y="287.76" width="7.5" height="2.8"/>
<rect x="75.85" y="291.29" width="7.5" height="2.8"/>
<rect x="90.50" y="294.83" width="7.5" height="2.8"/>
<rect x="104.75" y="298.36" width="7.5" height="2.8"/>
<rect x="118.61" y="301.88" width="7.5" height="2.8"/>
<rect x="132.07" y="305.41" width="7.5" height="2.8"/>
<rect x="145.13" y="308.93" width="7.5" height="2.8"/>
<rect x="157.79" y="312.45" width="7.5" height="2.8"/>
<rect x="170.06" y="315.97" width="7.5" height="2.8"/>
<rect x="181.93" y="319.48" width="7.5" height="2.8"/>
<rect x="193.41" y="322.99" width="7.5" height="2.8"/>
<rect x="204.49" y="326.50" width="7.5" height="2.8"/>
<rect x="215.17" y="330.01" width="7.5" height="2.8"/>
<rect x="225.46" y="333.51" width="7.5" height="2.8"/>
<rect x="235.36" y="337.01" width="7.5" height="2.8"/>
<rect x="244.86" y="340.51" width="7.5" height="2.8"/>
<rect x="253.97" y="344.00" width="7.5" height="2.8"/>
<rect x="262.68" y="347.49" width="7.5" height="2.8"/>
<rect x="271.00" y="350.97" width="7.5" height="2.8"/>
<rect x="278.93" y="354.45" width="7.5" height="2.8"/>
<rect x="286.47" y="357.93" width="7.5" height="2.8"/>
<rect x="293.61" y="361.40" width="7.5" height="2.8"/>
<rect x="300.37" y="364.87" width="7.5" height="2.8"/>
<rect x="306.73" y="368.33" width="7.5" height="2.8"/>
<rect x="312.70" y="371.79" width="7.5" height="2.8"/>
<rect x="318.29" y="375.24" width="7.5" height="2.8"/>
<rect x="323.48" y="378.68" width="7.5" height="2.8"/>
<rect x="328.29" y="382.12" width="7.5" height="2.8"/>
<rect x="332.71" y="385.55" width="7.5" height="2.8"/>
<rect x="336.74" y="388.97" width="7.5" height="2.8"/>
<rect x="340.39" y="392.38" width="7.5" height="2.8"/>
<rect x="343.66" y="395.79" width="7.5" height="2.8"/>
<rect x="346.54" y="399.18" width="7.5" height="2.8"/>
<rect x="349.03" y="402.55" width="7.5" height="2.8"/>
<rect x="351.15" y="405.91" width="7.5" height="2.8"/>
<rect x="352.89" y="409.25" width="7.5" height="2.8"/>
<rect x="354.24" y="412.55" width="7.5" height="2.8"/>
<rect x="355.23" y="415.80" width="7.5" height="2.8"/>
<rect x="355.84" y="418.88" width="7.5" height="2.8"/>
<rect x="356.07" y="420.95" width="7.5" height="2.8"/>
<rect x="356.15" y="423.10" width="7.5" height="2.8"/>
</g>
<circle cx="107.15" cy="477.90" r="3.4"/>
<text x="112.05" y="481.70" font-size="10.9">875</text>
<rect x="138.15" y="474.55" width="6.7" height="6.7"/>
<text x="146.40" y="481.70" font-size="10.9">900</text>
<path d="M175.85 474.40L179.40 481.10L172.30 481.10Z"/>
<text x="180.75" y="481.70" font-size="10.9">925</text>
<path d="M207.15 474.85L213.25 480.95M213.25 474.85L207.15 480.95M210.20 474.85L210.20 480.95" stroke="#000" stroke-width="1.4" fill="none"/>
<text x="215.10" y="481.70" font-size="10.9">950</text>
<rect x="240.80" y="476.50" width="7.5" height="2.8"/>
<path d="M253.51 481.70L252.55 481.70L252.55 475.60Q252.21 475.93 251.65 476.26Q251.08 476.59 250.64 476.75L250.64 475.82Q251.44 475.45 252.04 474.91Q252.64 474.37 252.89 473.87L253.51 473.87Z" stroke="#000" stroke-width="0.4"/><text x="255.51" y="481.70" font-size="10.9">000</text>
<rect x="431.55" y="259.05" width="299.55" height="0.8" fill="#9a9a9a"/>
<text x="398.48" y="263.20" font-size="10.9">0.0</text><path d="M417.69 263.20L416.73 263.20L416.73 257.10Q416.39 257.43 415.82 257.76Q415.26 258.09 414.82 258.25L414.82 257.32Q415.62 256.95 416.22 256.41Q416.82 255.87 417.07 255.37L417.69 255.37Z" stroke="#000" stroke-width="0.4"/><text x="419.69" y="263.20" font-size="10.9">4</text>
<rect x="431.55" y="282.63" width="299.55" height="0.8" fill="#9a9a9a"/>
<text x="398.48" y="286.78" font-size="10.9">0.0</text><path d="M417.69 286.78L416.73 286.78L416.73 280.67Q416.39 281.00 415.82 281.33Q415.26 281.66 414.82 281.83L414.82 280.90Q415.62 280.52 416.22 279.99Q416.82 279.45 417.07 278.94L417.69 278.94Z" stroke="#000" stroke-width="0.4"/><text x="419.69" y="286.78" font-size="10.9">2</text>
<rect x="431.55" y="306.21" width="299.55" height="0.8" fill="#9a9a9a"/>
<text x="398.48" y="310.36" font-size="10.9">0.0</text><path d="M417.69 310.36L416.73 310.36L416.73 304.25Q416.39 304.58 415.82 304.91Q415.26 305.24 414.82 305.41L414.82 304.48Q415.62 304.10 416.22 303.57Q416.82 303.03 417.07 302.52L417.69 302.52Z" stroke="#000" stroke-width="0.4"/><text x="419.69" y="310.36" font-size="10.9">0</text>
<rect x="431.55" y="329.79" width="299.55" height="0.8" fill="#9a9a9a"/>
<text x="398.48" y="333.94" font-size="10.9">0.008</text>
<rect x="431.55" y="353.36" width="299.55" height="0.8" fill="#9a9a9a"/>
<text x="398.48" y="357.51" font-size="10.9">0.006</text>
<rect x="431.55" y="376.94" width="299.55" height="0.8" fill="#9a9a9a"/>
<text x="398.48" y="381.09" font-size="10.9">0.004</text>
<rect x="431.55" y="400.52" width="299.55" height="0.8" fill="#9a9a9a"/>
<text x="398.48" y="404.67" font-size="10.9">0.002</text>
<rect x="431.55" y="424.10" width="299.55" height="0.8" fill="#8e8e8e"/>
<text x="398.48" y="428.25" font-size="10.9">0.000</text>
<rect x="435.15" y="259.45" width="0.8" height="168.85" fill="#8e8e8e"/>
<rect x="435.15" y="424.50" width="0.8" height="3.8" fill="#a0a0a0"/>
<text x="432.52" y="441.40" font-size="10.9">0</text>
<rect x="494.22" y="424.50" width="0.8" height="3.8" fill="#a0a0a0"/>
<text x="487.04" y="441.40" font-size="10.9">0.2</text>
<rect x="553.29" y="424.50" width="0.8" height="3.8" fill="#a0a0a0"/>
<text x="546.11" y="441.40" font-size="10.9">0.4</text>
<rect x="612.36" y="424.50" width="0.8" height="3.8" fill="#a0a0a0"/>
<text x="605.18" y="441.40" font-size="10.9">0.6</text>
<rect x="671.43" y="424.50" width="0.8" height="3.8" fill="#a0a0a0"/>
<text x="664.25" y="441.40" font-size="10.9">0.8</text>
<rect x="730.50" y="424.50" width="0.8" height="3.8" fill="#a0a0a0"/>
<path d="M731.93 441.40L730.97 441.40L730.97 435.30Q730.63 435.63 730.07 435.96Q729.50 436.29 729.06 436.45L729.06 435.52Q729.86 435.15 730.46 434.61Q731.06 434.07 731.31 433.57L731.93 433.57Z" stroke="#000" stroke-width="0.4"/>
<text x="583.23" y="456.50" text-anchor="middle" class="b" font-size="11.3">X (-)</text>
<text transform="translate(389.30 342.80) rotate(-90)" text-anchor="middle" class="b" font-size="11.6">dX/dt (min<tspan font-size="7.2" dy="-3.9">-1</tspan><tspan dy="3.9">)</tspan></text>
<text x="378.90" y="485.10" font-size="11" style="stroke-width:0.4px">d)</text>
<g>
<circle cx="435.55" cy="410.82" r="3.4"/>
<circle cx="449.02" cy="411.09" r="3.4"/>
<circle cx="462.22" cy="411.36" r="3.4"/>
<circle cx="475.16" cy="411.63" r="3.4"/>
<circle cx="487.82" cy="411.90" r="3.4"/>
<circle cx="500.22" cy="412.17" r="3.4"/>
<circle cx="512.34" cy="412.45" r="3.4"/>
<circle cx="524.18" cy="412.73" r="3.4"/>
<circle cx="535.75" cy="413.01" r="3.4"/>
<circle cx="547.04" cy="413.29" r="3.4"/>
<circle cx="558.04" cy="413.58" r="3.4"/>
<circle cx="568.75" cy="413.87" r="3.4"/>
<circle cx="579.18" cy="414.16" r="3.4"/>
<circle cx="589.31" cy="414.46" r="3.4"/>
<circle cx="599.15" cy="414.76" r="3.4"/>
<circle cx="608.69" cy="415.06" r="3.4"/>
<circle cx="617.92" cy="415.37" r="3.4"/>
<circle cx="626.85" cy="415.68" r="3.4"/>
<circle cx="635.47" cy="415.99" r="3.4"/>
<circle cx="643.77" cy="416.31" r="3.4"/>
<circle cx="651.75" cy="416.63" r="3.4"/>
<circle cx="659.41" cy="416.96" r="3.4"/>
<circle cx="666.74" cy="417.30" r="3.4"/>
<circle cx="673.73" cy="417.64" r="3.4"/>
<circle cx="680.38" cy="417.99" r="3.4"/>
<circle cx="686.68" cy="418.34" r="3.4"/>
<circle cx="692.62" cy="418.70" r="3.4"/>
<circle cx="698.20" cy="419.07" r="3.4"/>
<circle cx="703.41" cy="419.45" r="3.4"/>
<circle cx="708.23" cy="419.85" r="3.4"/>
<circle cx="712.65" cy="420.25" r="3.4"/>
<circle cx="716.66" cy="420.67" r="3.4"/>
<circle cx="720.24" cy="421.11" r="3.4"/>
<circle cx="723.38" cy="421.57" r="3.4"/>
<circle cx="726.04" cy="422.06" r="3.4"/>
<circle cx="728.19" cy="422.59" r="3.4"/>
<circle cx="729.77" cy="423.18" r="3.4"/>
<circle cx="730.46" cy="423.61" r="3.4"/>
</g>
<g>
<rect x="432.20" y="396.51" width="6.7" height="6.7"/>
<rect x="445.52" y="396.98" width="6.7" height="6.7"/>
<rect x="458.58" y="397.46" width="6.7" height="6.7"/>
<rect x="471.38" y="397.94" width="6.7" height="6.7"/>
<rect x="483.92" y="398.42" width="6.7" height="6.7"/>
<rect x="496.19" y="398.91" width="6.7" height="6.7"/>
<rect x="508.19" y="399.40" width="6.7" height="6.7"/>
<rect x="519.93" y="399.90" width="6.7" height="6.7"/>
<rect x="531.39" y="400.40" width="6.7" height="6.7"/>
<rect x="542.58" y="400.91" width="6.7" height="6.7"/>
<rect x="553.49" y="401.42" width="6.7" height="6.7"/>
<rect x="564.12" y="401.93" width="6.7" height="6.7"/>
<rect x="574.47" y="402.45" width="6.7" height="6.7"/>
<rect x="584.53" y="402.98" width="6.7" height="6.7"/>
<rect x="594.30" y="403.51" width="6.7" height="6.7"/>
<rect x="603.78" y="404.05" width="6.7" height="6.7"/>
<rect x="612.97" y="404.60" width="6.7" height="6.7"/>
<rect x="621.85" y="405.15" width="6.7" height="6.7"/>
<rect x="630.43" y="405.71" width="6.7" height="6.7"/>
<rect x="638.71" y="406.27" width="6.7" height="6.7"/>
<rect x="646.67" y="406.85" width="6.7" height="6.7"/>
<rect x="654.32" y="407.43" width="6.7" height="6.7"/>
<rect x="661.64" y="408.03" width="6.7" height="6.7"/>
<rect x="668.64" y="408.63" width="6.7" height="6.7"/>
<rect x="675.30" y="409.25" width="6.7" height="6.7"/>
<rect x="681.63" y="409.87" width="6.7" height="6.7"/>
<rect x="687.61" y="410.52" width="6.7" height="6.7"/>
<rect x="693.23" y="411.17" width="6.7" height="6.7"/>
<rect x="698.49" y="411.85" width="6.7" height="6.7"/>
<rect x="703.38" y="412.54" width="6.7" height="6.7"/>
<rect x="707.88" y="413.25" width="6.7" height="6.7"/>
<rect x="711.99" y="413.99" width="6.7" height="6.7"/>
<rect x="715.68" y="414.76" width="6.7" height="6.7"/>
<rect x="718.94" y="415.57" width="6.7" height="6.7"/>
<rect x="721.75" y="416.42" width="6.7" height="6.7"/>
<rect x="724.07" y="417.34" width="6.7" height="6.7"/>
<rect x="725.87" y="418.34" width="6.7" height="6.7"/>
<rect x="727.05" y="419.47" width="6.7" height="6.7"/>
<rect x="727.11" y="419.54" width="6.7" height="6.7"/>
</g>
<g>
<path d="M435.55 381.51L439.10 388.21L432.00 388.21Z"/>
<path d="M451.82 382.83L455.37 389.53L448.27 389.53Z"/>
<path d="M467.54 384.13L471.09 390.83L463.99 390.83Z"/>
<path d="M482.72 385.42L486.27 392.12L479.17 392.12Z"/>
<path d="M497.36 386.70L500.91 393.40L493.81 393.40Z"/>
<path d="M511.46 387.95L515.01 394.65L507.91 394.65Z"/>
<path d="M525.05 389.20L528.60 395.90L521.50 395.90Z"/>
<path d="M538.11 390.42L541.66 397.12L534.56 397.12Z"/>
<path d="M550.67 391.64L554.22 398.34L547.12 398.34Z"/>
<path d="M562.72 392.83L566.27 399.53L559.17 399.53Z"/>
<path d="M574.28 394.01L577.83 400.71L570.73 400.71Z"/>
<path d="M585.34 395.17L588.89 401.87L581.79 401.87Z"/>
<path d="M595.92 396.31L599.47 403.01L592.37 403.01Z"/>
<path d="M606.03 397.44L609.58 404.14L602.48 404.14Z"/>
<path d="M615.66 398.55L619.21 405.25L612.11 405.25Z"/>
<path d="M624.84 399.64L628.39 406.34L621.29 406.34Z"/>
<path d="M633.57 400.71L637.12 407.41L630.02 407.41Z"/>
<path d="M641.84 401.76L645.39 408.46L638.29 408.46Z"/>
<path d="M649.68 402.80L653.23 409.50L646.13 409.50Z"/>
<path d="M657.09 403.81L660.64 410.51L653.54 410.51Z"/>
<path d="M664.08 404.81L667.63 411.51L660.53 411.51Z"/>
<path d="M670.66 405.79L674.21 412.49L667.11 412.49Z"/>
<path d="M676.83 406.74L680.38 413.44L673.28 413.44Z"/>
<path d="M682.60 407.67L686.15 414.37L679.05 414.37Z"/>
<path d="M687.99 408.59L691.54 415.29L684.44 415.29Z"/>
<path d="M693.00 409.48L696.55 416.18L689.45 416.18Z"/>
<path d="M697.64 410.35L701.19 417.05L694.09 417.05Z"/>
<path d="M701.93 411.19L705.48 417.89L698.38 417.89Z"/>
<path d="M705.86 412.01L709.41 418.71L702.31 418.71Z"/>
<path d="M709.45 412.81L713.00 419.51L705.90 419.51Z"/>
<path d="M712.71 413.58L716.26 420.28L709.16 420.28Z"/>
<path d="M715.66 414.33L719.21 421.03L712.11 421.03Z"/>
<path d="M718.30 415.05L721.85 421.75L714.75 421.75Z"/>
<path d="M720.64 415.74L724.19 422.44L717.09 422.44Z"/>
<path d="M722.70 416.40L726.25 423.10L719.15 423.10Z"/>
<path d="M724.49 417.03L728.04 423.73L720.94 423.73Z"/>
<path d="M726.02 417.63L729.57 424.33L722.47 424.33Z"/>
<path d="M727.30 418.20L730.85 424.90L723.75 424.90Z"/>
<path d="M728.36 418.72L731.91 425.42L724.81 425.42Z"/>
<path d="M729.20 419.21L732.75 425.91L725.65 425.91Z"/>
<path d="M729.85 419.66L733.40 426.36L726.30 426.36Z"/>
<path d="M730.31 420.06L733.86 426.76L726.76 426.76Z"/>
<path d="M730.46 420.20L734.01 426.90L726.91 426.90Z"/>
</g>
<g>
<path d="M432.50 352.48L438.60 358.58M438.60 352.48L432.50 358.58M435.55 352.48L435.55 358.58" stroke="#000" stroke-width="1.4" fill="none"/>
<path d="M449.64 354.89L455.74 360.99M455.74 354.89L449.64 360.99M452.69 354.89L452.69 360.99" stroke="#000" stroke-width="1.4" fill="none"/>
<path d="M466.18 357.28L472.28 363.38M472.28 357.28L466.18 363.38M469.23 357.28L469.23 363.38" stroke="#000" stroke-width="1.4" fill="none"/>
<path d="M482.11 359.63L488.21 365.73M488.21 359.63L482.11 365.73M485.16 359.63L485.16 365.73" stroke="#000" stroke-width="1.4" fill="none"/>
<path d="M497.46 361.96L503.56 368.06M503.56 361.96L497.46 368.06M500.51 361.96L500.51 368.06" stroke="#000" stroke-width="1.4" fill="none"/>
<path d="M512.21 364.26L518.31 370.36M518.31 364.26L512.21 370.36M515.26 364.26L515.26 370.36" stroke="#000" stroke-width="1.4" fill="none"/>
<path d="M526.39 366.52L532.49 372.62M532.49 366.52L526.39 372.62M529.44 366.52L529.44 372.62" stroke="#000" stroke-width="1.4" fill="none"/>
<path d="M540.00 368.76L546.10 374.86M546.10 368.76L540.00 374.86M543.05 368.76L543.05 374.86" stroke="#000" stroke-width="1.4" fill="none"/>
<path d="M553.05 370.97L559.15 377.07M559.15 370.97L553.05 377.07M556.10 370.97L556.10 377.07" stroke="#000" stroke-width="1.4" fill="none"/>
<path d="M565.54 373.15L571.64 379.25M571.64 373.15L565.54 379.25M568.59 373.15L568.59 379.25" stroke="#000" stroke-width="1.4" fill="none"/>
<path d="M577.49 375.30L583.59 381.40M583.59 375.30L577.49 381.40M580.54 375.30L580.54 381.40" stroke="#000" stroke-width="1.4" fill="none"/>
<path d="M588.89 377.41L594.99 383.51M594.99 377.41L588.89 383.51M591.94 377.41L591.94 383.51" stroke="#000" stroke-width="1.4" fill="none"/>
<path d="M599.77 379.50L605.87 385.60M605.87 379.50L599.77 385.60M602.82 379.50L602.82 385.60" stroke="#000" stroke-width="1.4" fill="none"/>
<path d="M610.12 381.55L616.22 387.65M616.22 381.55L610.12 387.65M613.17 381.55L613.17 387.65" stroke="#000" stroke-width="1.4" fill="none"/>
<path d="M619.95 383.57L626.05 389.67M626.05 383.57L619.95 389.67M623.00 383.57L623.00 389.67" stroke="#000" stroke-width="1.4" fill="none"/>
<path d="M629.28 385.55L635.38 391.65M635.38 385.55L629.28 391.65M632.33 385.55L632.33 391.65" stroke="#000" stroke-width="1.4" fill="none"/>
<path d="M638.11 387.50L644.21 393.60M644.21 387.50L638.11 393.60M641.16 387.50L641.16 393.60" stroke="#000" stroke-width="1.4" fill="none"/>
<path d="M646.46 389.42L652.56 395.52M652.56 389.42L646.46 395.52M649.51 389.42L649.51 395.52" stroke="#000" stroke-width="1.4" fill="none"/>
<path d="M654.32 391.30L660.42 397.40M660.42 391.30L654.32 397.40M657.37 391.30L657.37 397.40" stroke="#000" stroke-width="1.4" fill="none"/>
<path d="M661.71 393.14L667.81 399.24M667.81 393.14L661.71 399.24M664.76 393.14L664.76 399.24" stroke="#000" stroke-width="1.4" fill="none"/>
<path d="M668.64 394.94L674.74 401.04M674.74 394.94L668.64 401.04M671.69 394.94L671.69 401.04" stroke="#000" stroke-width="1.4" fill="none"/>
<path d="M675.12 396.71L681.22 402.81M681.22 396.71L675.12 402.81M678.17 396.71L678.17 402.81" stroke="#000" stroke-width="1.4" fill="none"/>
<path d="M681.15 398.44L687.25 404.54M687.25 398.44L681.15 404.54M684.20 398.44L684.20 404.54" stroke="#000" stroke-width="1.4" fill="none"/>
<path d="M686.76 400.12L692.86 406.22M692.86 400.12L686.76 406.22M689.81 400.12L689.81 406.22" stroke="#000" stroke-width="1.4" fill="none"/>
<path d="M691.94 401.77L698.04 407.87M698.04 401.77L691.94 407.87M694.99 401.77L694.99 407.87" stroke="#000" stroke-width="1.4" fill="none"/>
<path d="M696.71 403.37L702.81 409.47M702.81 403.37L696.71 409.47M699.76 403.37L699.76 409.47" stroke="#000" stroke-width="1.4" fill="none"/>
<path d="M701.09 404.92L707.19 411.02M707.19 404.92L701.09 411.02M704.14 404.92L704.14 411.02" stroke="#000" stroke-width="1.4" fill="none"/>
<path d="M705.07 406.43L711.17 412.53M711.17 406.43L705.07 412.53M708.12 406.43L708.12 412.53" stroke="#000" stroke-width="1.4" fill="none"/>
<path d="M708.68 407.90L714.78 414.00M714.78 407.90L708.68 414.00M711.73 407.90L711.73 414.00" stroke="#000" stroke-width="1.4" fill="none"/>
<path d="M711.92 409.31L718.02 415.41M718.02 409.31L711.92 415.41M714.97 409.31L714.97 415.41" stroke="#000" stroke-width="1.4" fill="none"/>
<path d="M714.81 410.68L720.91 416.78M720.91 410.68L714.81 416.78M717.86 410.68L717.86 416.78" stroke="#000" stroke-width="1.4" fill="none"/>
<path d="M717.36 411.99L723.46 418.09M723.46 411.99L717.36 418.09M720.41 411.99L720.41 418.09" stroke="#000" stroke-width="1.4" fill="none"/>
<path d="M719.59 413.24L725.69 419.34M725.69 413.24L719.59 419.34M722.64 413.24L722.64 419.34" stroke="#000" stroke-width="1.4" fill="none"/>
<path d="M721.51 414.43L727.61 420.53M727.61 414.43L721.51 420.53M724.56 414.43L724.56 420.53" stroke="#000" stroke-width="1.4" fill="none"/>
<path d="M723.13 415.57L729.23 421.67M729.23 415.57L723.13 421.67M726.18 415.57L726.18 421.67" stroke="#000" stroke-width="1.4" fill="none"/>
<path d="M724.48 416.63L730.58 422.73M730.58 416.63L724.48 422.73M727.53 416.63L727.53 422.73" stroke="#000" stroke-width="1.4" fill="none"/>
<path d="M725.56 417.62L731.66 423.72M731.66 417.62L725.56 423.72M728.61 417.62L728.61 423.72" stroke="#000" stroke-width="1.4" fill="none"/>
<path d="M726.40 418.53L732.50 424.63M732.50 418.53L726.40 424.63M729.45 418.53L729.45 424.63" stroke="#000" stroke-width="1.4" fill="none"/>
<path d="M727.02 419.36L733.12 425.46M733.12 419.36L727.02 425.46M730.07 419.36L730.07 425.46" stroke="#000" stroke-width="1.4" fill="none"/>
<path d="M727.41 420.01L733.51 426.11M733.51 420.01L727.41 426.11M730.46 420.01L730.46 426.11" stroke="#000" stroke-width="1.4" fill="none"/>
</g>
<g>
<rect x="431.80" y="284.69" width="7.5" height="2.8"/>
<rect x="448.94" y="289.61" width="7.5" height="2.8"/>
<rect x="465.46" y="294.46" width="7.5" height="2.8"/>
<rect x="481.37" y="299.25" width="7.5" height="2.8"/>
<rect x="496.68" y="303.98" width="7.5" height="2.8"/>
<rect x="511.40" y="308.64" width="7.5" height="2.8"/>
<rect x="525.54" y="313.24" width="7.5" height="2.8"/>
<rect x="539.10" y="317.77" width="7.5" height="2.8"/>
<rect x="552.09" y="322.24" width="7.5" height="2.8"/>
<rect x="564.53" y="326.64" width="7.5" height="2.8"/>
<rect x="576.41" y="330.96" width="7.5" height="2.8"/>
<rect x="587.76" y="335.22" width="7.5" height="2.8"/>
<rect x="598.57" y="339.41" width="7.5" height="2.8"/>
<rect x="608.85" y="343.53" width="7.5" height="2.8"/>
<rect x="618.63" y="347.57" width="7.5" height="2.8"/>
<rect x="627.89" y="351.54" width="7.5" height="2.8"/>
<rect x="636.66" y="355.44" width="7.5" height="2.8"/>
<rect x="644.95" y="359.26" width="7.5" height="2.8"/>
<rect x="652.76" y="363.00" width="7.5" height="2.8"/>
<rect x="660.10" y="366.66" width="7.5" height="2.8"/>
<rect x="666.98" y="370.24" width="7.5" height="2.8"/>
<rect x="673.42" y="373.74" width="7.5" height="2.8"/>
<rect x="679.42" y="377.15" width="7.5" height="2.8"/>
<rect x="685.00" y="380.48" width="7.5" height="2.8"/>
<rect x="690.17" y="383.72" width="7.5" height="2.8"/>
<rect x="694.93" y="386.87" width="7.5" height="2.8"/>
<rect x="699.29" y="389.93" width="7.5" height="2.8"/>
<rect x="703.28" y="392.89" width="7.5" height="2.8"/>
<rect x="706.91" y="395.75" width="7.5" height="2.8"/>
<rect x="710.17" y="398.52" width="7.5" height="2.8"/>
<rect x="713.10" y="401.17" width="7.5" height="2.8"/>
<rect x="715.70" y="403.72" width="7.5" height="2.8"/>
<rect x="717.98" y="406.16" width="7.5" height="2.8"/>
<rect x="719.96" y="408.48" width="7.5" height="2.8"/>
<rect x="721.66" y="410.68" width="7.5" height="2.8"/>
<rect x="723.08" y="412.74" width="7.5" height="2.8"/>
<rect x="724.26" y="414.67" width="7.5" height="2.8"/>
<rect x="725.20" y="416.46" width="7.5" height="2.8"/>
<rect x="725.92" y="418.08" width="7.5" height="2.8"/>
<rect x="726.45" y="419.53" width="7.5" height="2.8"/>
<rect x="726.71" y="420.39" width="7.5" height="2.8"/>
</g>
<circle cx="478.15" cy="477.90" r="3.4"/>
<text x="483.05" y="481.70" font-size="10.9">875</text>
<rect x="509.15" y="474.55" width="6.7" height="6.7"/>
<text x="517.40" y="481.70" font-size="10.9">900</text>
<path d="M546.85 474.40L550.40 481.10L543.30 481.10Z"/>
<text x="551.75" y="481.70" font-size="10.9">925</text>
<path d="M578.15 474.85L584.25 480.95M584.25 474.85L578.15 480.95M581.20 474.85L581.20 480.95" stroke="#000" stroke-width="1.4" fill="none"/>
<text x="586.10" y="481.70" font-size="10.9">950</text>
<rect x="611.80" y="476.50" width="7.5" height="2.8"/>
<path d="M624.51 481.70L623.55 481.70L623.55 475.60Q623.21 475.93 622.65 476.26Q622.08 476.59 621.64 476.75L621.64 475.82Q622.44 475.45 623.04 474.91Q623.64 474.37 623.89 473.87L624.51 473.87Z" stroke="#000" stroke-width="0.4"/><text x="626.51" y="481.70" font-size="10.9">000</text>
<g font-size="10.3" style="stroke-width:0.5px">
<text x="3.0" y="519.6" textLength="38.6" lengthAdjust="spacingAndGlyphs" style="stroke-width:0.5px">Figure 3</text>
<rect x="44" y="517.3" width="8.2" height="1.1" fill="#000"/>
<text x="53.3" y="519.6" textLength="374" lengthAdjust="spacingAndGlyphs" style="stroke-width:0.5px">Conversion rates of (a) ROM coal char, (b) BL, (c) L, and (d) R briquette chars</text>
</g>
</svg></body></html>
